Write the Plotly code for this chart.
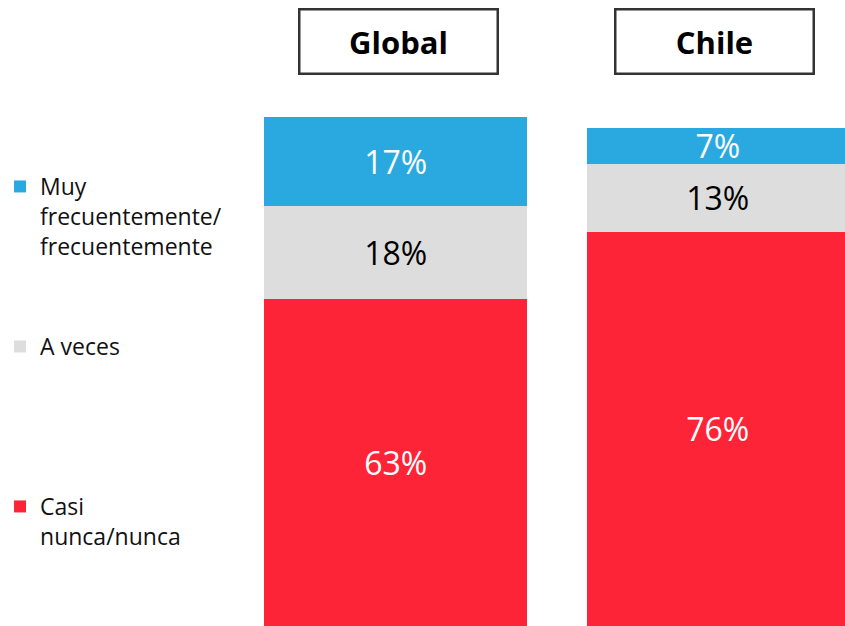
import plotly.graph_objects as go

# Data
regions = ['Global', 'Chile']
casi_nunca = [63, 76]
a_veces = [18, 13]
muy_frecuente = [17, 7]

series_names = ['Casi<br>nunca/nunca', 'A veces', 'Muy<br>frecuentemente/<br>frecuentemente']
series_colors = ['#FE2437', '#DDDDDD', '#29A9E0']
label_colors = ['white', 'black', 'white']

W, H = 845, 626

fig = go.Figure()

legends = ['legend3', 'legend2', 'legend']
for vals, name, color, lcol, lg in zip(
    [casi_nunca, a_veces, muy_frecuente], series_names, series_colors, label_colors, legends
):
    fig.add_trace(go.Bar(
        x=[0, 1],
        y=vals,
        name=name,
        width=0.815,
        marker=dict(color=color, line=dict(width=0)),
        texttemplate='%{y}%',
        textposition='inside',
        insidetextanchor='middle',
        textangle=0,
        insidetextfont=dict(color=lcol, size=32, family='Open Sans'),
        hoverinfo='skip',
        legend=lg,
    ))

# title boxes over each bar
for cx, label in zip([396, 713.5], regions):
    fig.add_annotation(
        x=cx / W, y=1 - 42 / H, xref='paper', yref='paper',
        text=f'<b>{label}</b>', showarrow=False,
        font=dict(size=31, color='black', family='Open Sans'),
        width=196, height=62, borderpad=0,
        bordercolor='#333333', borderwidth=2.5,
        xanchor='center', yanchor='middle',
    )

leg_font = dict(size=23, color='#111111', family='Open Sans')


def leg(ytop):
    return dict(
        x=-5 / W, y=1 - ytop / H, xanchor='left', yanchor='top',
        font=leg_font, valign='top', bgcolor='rgba(0,0,0,0)',
        borderwidth=0, itemclick=False,
    )


fig.update_layout(
    width=W, height=H,
    margin=dict(l=0, r=0, t=0, b=0),
    paper_bgcolor='white', plot_bgcolor='white',
    barmode='stack',
    showlegend=True,
    legend=leg(165),
    legend2=leg(325),
    legend3=leg(485),
    uniformtext=dict(minsize=32, mode='show'),
    xaxis=dict(range=[-393 / 324, (W - 393) / 324], visible=False, fixedrange=True),
    yaxis=dict(range=[0, 120.6], visible=False, fixedrange=True),
)

# drop the browser's default page margin so the figure sits at 0,0
fig.write_html('out.html', config={'displayModeBar': False},
               post_script="document.body.style.margin='0';")
